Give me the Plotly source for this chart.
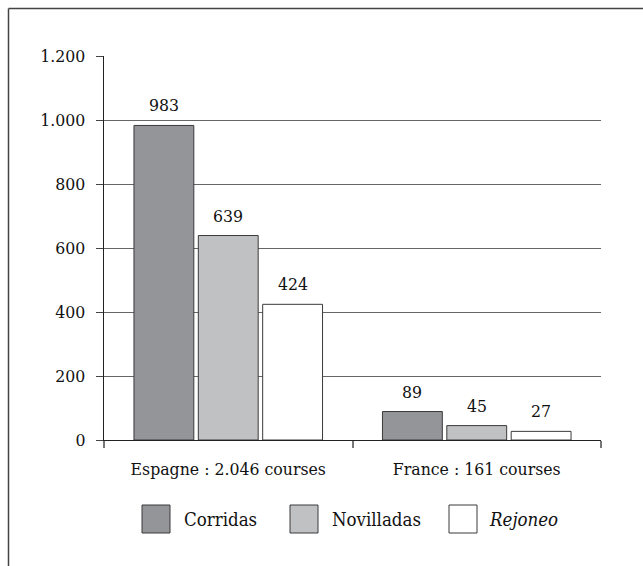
import plotly.graph_objects as go

# Corridas, novilladas and rejoneo counts by country
categories = ["Espagne : 2.046 courses", "France : 161 courses"]
series_names = ["Corridas", "Novilladas", "Rejoneo"]
corridas = [983, 89]
novilladas = [639, 45]
rejoneo = [424, 27]
y_ticks = [0, 200, 400, 600, 800, 1000, 1200]

fills = ["#939598", "#c0c1c3", "#ffffff"]
outline = "#3a3a3a"
serif = "DejaVu Serif Condensed, DejaVu Serif"
BARGAP = 0.223

W, H = 643, 566
L, R, T, B = 104, 42, 56, 126
pw, ph = W - L - R, H - T - B


def px(x):
    return (x - L) / pw


def py(y):
    return (H - B - y) / ph


fig = go.Figure()
annotations = []
slot = pw / len(categories) * (1 - BARGAP) / len(series_names)
for i, (name, vals, col) in enumerate(zip(series_names, [corridas, novilladas, rejoneo], fills)):
    fig.add_trace(go.Bar(
        x=categories, y=vals, name=name,
        marker=dict(color=col, line=dict(color=outline, width=1)),
        showlegend=False,
    ))
    # value labels above each bar
    for cat, v in zip(categories, vals):
        annotations.append(dict(
            x=cat, y=v, xref="x", yref="y", text=str(v), showarrow=False,
            xanchor="center", yanchor="bottom",
            xshift=(i - (len(series_names) - 1) / 2) * slot, yshift=8,
            font=dict(family=serif, size=17.5, color="#111"),
        ))

shapes = [
    # outer frame: left and top edges
    dict(type="line", xref="paper", yref="paper", x0=px(8.5), x1=px(8.5), y0=py(8.5), y1=py(566),
         line=dict(color="#444", width=1.5)),
    dict(type="line", xref="paper", yref="paper", x0=px(8.5), x1=px(643), y0=py(8.5), y1=py(8.5),
         line=dict(color="#444", width=1.5)),
]

# custom legend row
legend_items = [(142, 182, False), (290, 330, False), (449, 487, True)]
for (bx, tx, ital), name, col in zip(legend_items, series_names, fills):
    shapes.append(dict(type="rect", xref="paper", yref="paper",
                       x0=px(bx), x1=px(bx + 28), y0=py(533), y1=py(505),
                       fillcolor=col, line=dict(color=outline, width=1)))
    annotations.append(dict(xref="paper", yref="paper", x=px(tx), y=py(519),
                            xanchor="left", yanchor="middle", showarrow=False,
                            text=f"<i>{name}</i>" if ital else name,
                            font=dict(family=serif, size=18.5, color="#111")))

fig.update_layout(
    width=W, height=H,
    margin=dict(l=L, r=R, t=T, b=B),
    paper_bgcolor="white", plot_bgcolor="white",
    separators=",.",
    barmode="group", bargap=BARGAP, bargroupgap=0.07,
    shapes=shapes, annotations=annotations,
    font=dict(family=serif, size=17.5, color="#111"),
    xaxis=dict(
        type="category", range=[-0.5, 1.5],
        showline=True, linecolor="#222", linewidth=1.2,
        ticks="outside", tickson="boundaries", ticklen=7, tickcolor="#777", tickwidth=1.5,
        showgrid=False, ticklabelstandoff=13,
        tickfont=dict(family=serif, size=17.5, color="#111"),
    ),
    yaxis=dict(
        range=[0, 1200], tickvals=y_ticks, tickformat=",d",
        showline=True, linecolor="#222", linewidth=1.2,
        ticks="outside", ticklen=7, tickcolor="#444", tickwidth=1,
        showgrid=True, gridcolor="#666", gridwidth=1,
        zeroline=False, ticklabelstandoff=7,
        tickfont=dict(family=serif, size=17.5, color="#111"),
    ),
)

fig.write_html("out.html")
